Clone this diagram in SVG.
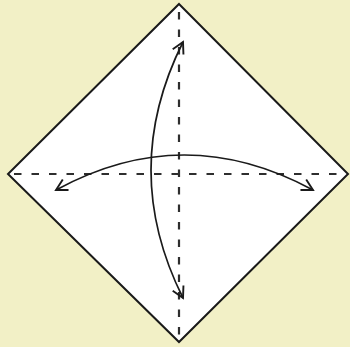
<svg xmlns="http://www.w3.org/2000/svg" width="350" height="347" viewBox="0 0 350 347">
<style>
.fold{stroke:#2e2e2e;stroke-width:2.2;stroke-dasharray:7.5,10;fill:none}
.arc{stroke:#1a1a1a;stroke-width:1.7;fill:none;marker-start:url(#ah);marker-end:url(#ah)}
</style>
<defs>
<marker id="ah" viewBox="-13 -8 15 16" markerWidth="15" markerHeight="16" refX="0" refY="0" orient="auto-start-reverse" markerUnits="userSpaceOnUse">
<path d="M-11,-6 L0,0 L-11,6" fill="none" stroke="#1a1a1a" stroke-width="1.9"/>
</marker>
</defs>
<rect width="350" height="347" fill="#f2f0c6"/>
<g id="paper">
<polygon points="179,4 348,174 179,342 8,174" fill="#ffffff" stroke="#1a1a1a" stroke-width="2"/>
</g>
<g id="folds">
<line class="fold" x1="179" y1="12" x2="179" y2="340"/>
<line class="fold" x1="14" y1="174" x2="345" y2="174"/>
</g>
<g id="connectors">
<path class="arc" d="M183,42 Q119,170 183,298"/>
<path class="arc" d="M56,190 Q184,120 313,190"/>
</g>
</svg>
